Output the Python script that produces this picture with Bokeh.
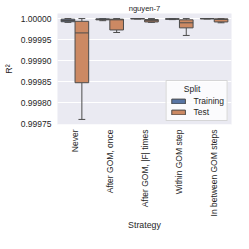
import math
from bokeh.plotting import figure
from bokeh.models import ColumnDataSource, FactorRange, Range1d, PrintfTickFormatter, FixedTicker
from bokeh.transform import dodge
from bokeh.embed import file_html
from bokeh.resources import INLINE

categories = ["Never", "After GOM, once", "After GOM, |F| times", "Within GOM step", "In between GOM steps"]

train_lo  = [0.999991, 0.999995, 0.999999, 0.9999975, 0.999999]
train_q1  = [0.9999925, 0.999997, 0.9999993, 0.9999985, 0.9999994]
train_med = [0.9999955, 0.999998, 0.9999997, 0.999999, 0.9999998]
train_q3  = [0.9999985, 0.9999993, 1.0, 0.9999995, 1.0]
train_hi  = [1.0, 1.0, 1.0, 1.0, 1.0]

test_lo  = [0.999761, 0.999967, 0.999991, 0.99996, 0.99999]
test_q1  = [0.999848, 0.999973, 0.999992, 0.999978, 0.999992]
test_med = [0.999966, 0.999997, 0.999995, 0.999990, 0.999998]
test_q3  = [0.9999935, 0.9999985, 0.9999977, 0.999997, 0.9999993]
test_hi  = [1.0, 1.0, 1.0, 1.0, 1.0]

splits = ["Training", "Test"]
colors = ["#5875a4", "#cc8963"]
offsets = [-0.2, 0.2]
edge = "#4c4c4c"
text_col = "#262626"
FONT = "Liberation Sans"

p = figure(width=233, height=233, output_backend="svg", toolbar_location=None,
           x_range=FactorRange(*categories, range_padding=0),
           y_range=Range1d(0.999749, 1.000012),
           min_border_left=51, min_border_right=2, min_border_top=13, min_border_bottom=105)

p.background_fill_color = "#eaeaf2"
p.border_fill_color = "white"
p.outline_line_color = None
p.xgrid.grid_line_color = None
p.ygrid.grid_line_color = "white"
p.ygrid.grid_line_width = 1

p.title.text = "nguyen-7"
p.title.align = "center"
p.title.text_font = FONT
p.title.text_font_size = "7.6px"
p.title.text_font_style = "normal"
p.title.text_color = text_col
p.title.standoff = 2

bw = 0.392
data = [
    (train_lo, train_q1, train_med, train_q3, train_hi),
    (test_lo, test_q1, test_med, test_q3, test_hi),
]
for (lo, q1, med, q3, hi), name, col, off in zip(data, splits, colors, offsets):
    src = ColumnDataSource(dict(cat=categories, lo=lo, q1=q1, med=med, q3=q3, hi=hi))
    xc = dodge("cat", off, range=p.x_range)
    # whiskers
    p.segment(x0=xc, x1=xc, y0="q3", y1="hi", source=src, line_color=edge, line_width=1)
    p.segment(x0=xc, x1=xc, y0="q1", y1="lo", source=src, line_color=edge, line_width=1)
    # caps
    p.segment(x0=dodge("cat", off - bw / 4, range=p.x_range), x1=dodge("cat", off + bw / 4, range=p.x_range),
              y0="hi", y1="hi", source=src, line_color=edge, line_width=1)
    p.segment(x0=dodge("cat", off - bw / 4, range=p.x_range), x1=dodge("cat", off + bw / 4, range=p.x_range),
              y0="lo", y1="lo", source=src, line_color=edge, line_width=1)
    # box
    p.vbar(x=xc, width=bw, top="q3", bottom="q1", source=src, fill_color=col,
           line_color=edge, line_width=1, legend_label=name)
    # median
    p.segment(x0=dodge("cat", off - bw / 2, range=p.x_range), x1=dodge("cat", off + bw / 2, range=p.x_range),
              y0="med", y1="med", source=src, line_color=edge, line_width=1)

# axes
p.yaxis.ticker = FixedTicker(ticks=[0.99975, 0.99980, 0.99985, 0.99990, 0.99995, 1.0])
p.yaxis.formatter = PrintfTickFormatter(format="%.5f")
for ax in (p.xaxis[0], p.yaxis[0]):
    ax.axis_line_color = None
    ax.major_tick_line_color = None
    ax.minor_tick_line_color = None
    ax.major_tick_out = 0
    ax.major_tick_in = 0
    ax.major_label_text_font = FONT
    ax.major_label_text_font_size = "8.5px"
    ax.major_label_text_color = text_col
    ax.axis_label_text_font = FONT
    ax.axis_label_text_font_size = "8.8px"
    ax.axis_label_text_font_style = "normal"
    ax.axis_label_text_color = text_col

p.yaxis.axis_label = "R²"
p.yaxis.major_label_standoff = 6
p.yaxis.axis_label_standoff = 4
p.xaxis.axis_label = "Strategy"
p.xaxis.major_label_orientation = math.pi / 2
p.xaxis.major_label_standoff = 5
p.xaxis.axis_label_standoff = 1

leg = p.legend[0]
leg.title = "\u00a0\u00a0\u00a0\u00a0\u00a0\u00a0Split"
leg.title_text_font = FONT
leg.title_text_font_size = "8.5px"
leg.title_text_font_style = "normal"
leg.title_text_color = text_col
leg.title_standoff = 2
leg.location = "bottom_right"
leg.margin = 3
leg.padding = 3
leg.spacing = 1
leg.label_text_font = FONT
leg.label_text_font_size = "8.5px"
leg.label_text_color = text_col
leg.glyph_width = 17
leg.glyph_height = 6
leg.label_height = 10
leg.label_standoff = 7
leg.background_fill_color = "white"
leg.background_fill_alpha = 0.8
leg.border_line_color = "#cccccc"
leg.border_line_alpha = 0.8

open("out.html", "w").write(file_html(p, INLINE))
